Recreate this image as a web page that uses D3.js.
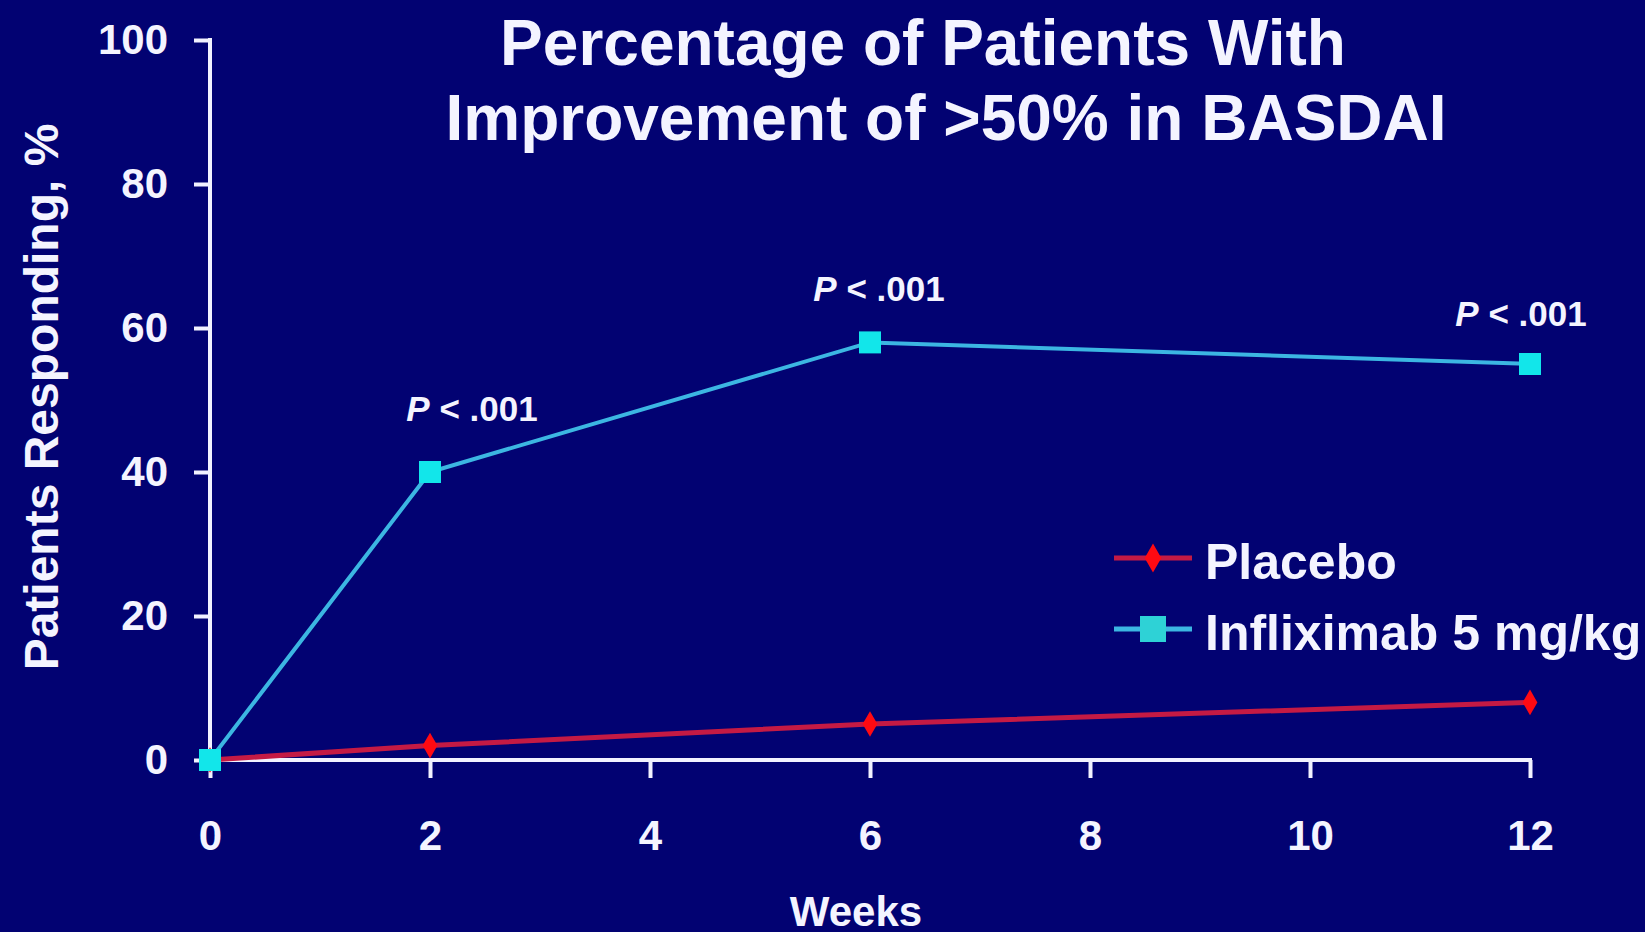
<!DOCTYPE html>
<html>
<head>
<meta charset="utf-8">
<script src="https://cdn.jsdelivr.net/npm/d3@7/dist/d3.min.js"></script>
<style>
  html, body { margin: 0; padding: 0; background: #020272; overflow: hidden; }
  svg { display: block; }
  text { font-family: "Liberation Sans", Arial, Helvetica, sans-serif; fill: #f4f4ff; }
</style>
</head>
<body>
<svg id="chart" width="1645" height="932"></svg>
<script>
// Weeks of follow-up
const weeks = [0, 2, 6, 12];
// Percentage of patients with >50% BASDAI improvement
const placebo = [0, 2, 5, 8];
const infliximab = [0, 40, 58, 55];
// Significance labels for infliximab vs placebo
const pLabels = [null, ".001", ".001", ".001"];

const xTicks = [0, 2, 4, 6, 8, 10, 12];
const yTicks = [0, 20, 40, 60, 80, 100];

const titleLines = ["Percentage of Patients With", "Improvement of >50% in BASDAI"];
const seriesNames = ["Placebo", "Infliximab 5 mg/kg"];

const W = 1645, H = 932;
const svg = d3.select("#chart");

svg.append("rect").attr("width", W).attr("height", H).attr("fill", "#020272");

const x = d3.scaleLinear().domain([0, 12]).range([210, 1530]);
const y = d3.scaleLinear().domain([0, 100]).range([760, 40]);

// Axes
const xAxis = svg.append("g")
  .attr("transform", `translate(0,${y(0)})`)
  .call(d3.axisBottom(x).tickValues(xTicks).tickSize(18).tickPadding(42).tickSizeOuter(0));
const yAxis = svg.append("g")
  .attr("transform", `translate(${x(0)},0)`)
  .call(d3.axisLeft(y).tickValues(yTicks).tickSize(16).tickPadding(26).tickSizeOuter(0));

[xAxis, yAxis].forEach(g => {
  g.select(".domain").attr("stroke", "#f2f2ff").attr("stroke-width", 4);
  g.selectAll(".tick line").attr("stroke", "#f2f2ff").attr("stroke-width", 4);
  g.selectAll(".tick text")
    .attr("fill", "#f4f4ff")
    .style("font-family", "'Liberation Sans', Arial, sans-serif")
    .style("font-weight", "bold")
    .style("font-size", "42px");
});
// axis lines end exactly at the outer ticks
yAxis.select(".domain").attr("d", `M0,${y(0) + 2}V${y(100) - 2}`);
xAxis.select(".domain").attr("d", `M${x(0) - 2},0H${x(12) + 2}`);

// Title
svg.append("text")
  .attr("x", 923).attr("y", 65)
  .attr("text-anchor", "middle")
  .style("font-size", "64px").style("font-weight", "bold")
  .text(titleLines[0]);
svg.append("text")
  .attr("x", 946).attr("y", 140)
  .attr("text-anchor", "middle")
  .style("font-size", "64px").style("font-weight", "bold")
  .text(titleLines[1]);

// Axis titles
svg.append("text")
  .attr("transform", "translate(58,397) rotate(-90)")
  .attr("text-anchor", "middle")
  .style("font-size", "48px").style("font-weight", "bold")
  .text("Patients Responding, %");
svg.append("text")
  .attr("x", 856).attr("y", 926)
  .attr("text-anchor", "middle")
  .style("font-size", "42px").style("font-weight", "bold")
  .text("Weeks");

const line = d3.line().x(d => x(d[0])).y(d => y(d[1]));
const placeboPts = weeks.map((w, i) => [w, placebo[i]]);
const inflixPts = weeks.map((w, i) => [w, infliximab[i]]);

const RED_LINE = "#c41a44", RED_MARK = "#ff0a12";
const CYAN_LINE = "#3cb6e2", CYAN_MARK = "#12e6ea";

// Placebo series
svg.append("path").datum(placeboPts)
  .attr("d", line).attr("fill", "none")
  .attr("stroke", RED_LINE).attr("stroke-width", 5);
svg.append("g").selectAll("path").data(placeboPts).join("path")
  .attr("transform", d => `translate(${x(d[0])},${y(d[1])})`)
  .attr("d", d3.symbol(d3.symbolDiamond, 190))
  .attr("fill", RED_MARK);

// Infliximab series
svg.append("path").datum(inflixPts)
  .attr("d", line).attr("fill", "none")
  .attr("stroke", CYAN_LINE).attr("stroke-width", 4);
svg.append("g").selectAll("rect").data(inflixPts).join("rect")
  .attr("x", d => x(d[0]) - 11).attr("y", d => y(d[1]) - 11)
  .attr("width", 22).attr("height", 22)
  .attr("fill", CYAN_MARK);

// P-value annotations above infliximab points
const pPos = [null, [472, 421], [879, 301], [1521, 326]];
weeks.forEach((w, i) => {
  if (!pLabels[i]) return;
  const t = svg.append("text")
    .attr("x", pPos[i][0]).attr("y", pPos[i][1])
    .attr("text-anchor", "middle")
    .style("font-size", "35px").style("font-weight", "bold");
  t.append("tspan").style("font-style", "italic").text("P");
  t.append("tspan").text(" < " + pLabels[i]);
});

// Legend
const legend = svg.append("g");
const legRows = [
  { name: seriesNames[0], y: 558, line: RED_LINE, mark: RED_MARK, type: "diamond", ty: 579 },
  { name: seriesNames[1], y: 629, line: CYAN_LINE, mark: "#2ed2d6", type: "square", ty: 650 }
];
legRows.forEach(r => {
  legend.append("line")
    .attr("x1", 1114).attr("x2", 1192).attr("y1", r.y).attr("y2", r.y)
    .attr("stroke", r.line).attr("stroke-width", 5);
  if (r.type === "diamond") {
    legend.append("path")
      .attr("transform", `translate(1153,${r.y})`)
      .attr("d", d3.symbol(d3.symbolDiamond, 240))
      .attr("fill", r.mark);
  } else {
    legend.append("rect")
      .attr("x", 1153 - 13).attr("y", r.y - 13)
      .attr("width", 26).attr("height", 26)
      .attr("fill", r.mark);
  }
  legend.append("text")
    .attr("x", 1205).attr("y", r.ty)
    .style("font-size", "50px").style("font-weight", "bold")
    .text(r.name);
});
</script>
</body>
</html>
